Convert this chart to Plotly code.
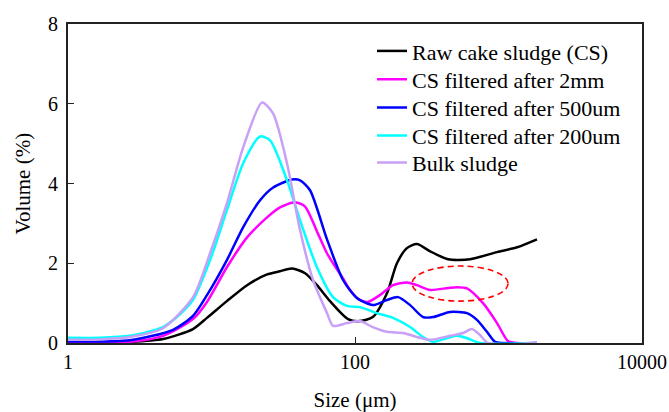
import plotly.graph_objects as go

# Particle size distributions (size in µm, volume in %)
raw_cake_size = [1, 1.67, 2.70, 4.59, 7.43, 9.30, 12.8, 17.7, 24.4, 30.0, 36.4, 44.9, 54.3, 67.0,
                 89.4, 108, 133, 167, 196, 230, 270, 334, 445, 633, 977, 1346, 1854]
raw_cake_vol = [0.02, 0.02, 0.03, 0.10, 0.35, 0.63, 1.05, 1.45, 1.72, 1.80, 1.87, 1.75, 1.45, 1.05,
                0.60, 0.55, 0.65, 1.25, 2.00, 2.38, 2.48, 2.30, 2.10, 2.10, 2.28, 2.40, 2.60]

cs_2mm_size = [1, 2.70, 4.59, 7.43, 9.30, 12.8, 17.7, 24.4, 30.0, 38.2, 44.9, 54.3, 63.8, 70.3,
               82.5, 92.3, 108, 123, 149, 184, 230, 270, 334, 445, 514, 603, 780, 977, 1164, 1346, 1854]
cs_2mm_vol = [0.02, 0.03, 0.18, 0.60, 1.03, 1.90, 2.65, 3.15, 3.40, 3.53, 3.42, 2.80, 2.25, 2.00,
              1.62, 1.33, 1.08, 1.03, 1.20, 1.45, 1.52, 1.45, 1.33, 1.38, 1.40, 1.37, 1.00, 0.50, 0.05, 0, 0]

cs_500um_size = [1, 2.70, 5.39, 7.43, 9.30, 12.8, 16.6, 21.8, 26.9, 36.4, 41.4, 48.6, 63.8, 82.5,
                 103, 133, 167, 200, 242, 298, 350, 459, 603, 708, 831, 946, 1075, 1854]
cs_500um_vol = [0.04, 0.07, 0.33, 0.68, 1.20, 2.08, 2.90, 3.58, 3.90, 4.10, 4.08, 3.83, 2.60, 1.58,
                1.13, 0.95, 1.08, 1.15, 0.95, 0.65, 0.65, 0.78, 0.75, 0.58, 0.28, 0.03, 0, 0]

cs_200um_size = [1, 1.67, 2.70, 4.59, 6.03, 7.43, 9.77, 12.8, 16.6, 21.8, 25.6, 33.6, 41.4, 54.3,
                 70.3, 88.0, 108, 142, 184, 242, 298, 350, 445, 514, 603, 743, 1854]
cs_200um_vol = [0.13, 0.13, 0.18, 0.40, 0.72, 1.08, 2.08, 3.33, 4.50, 5.18, 5.08, 4.08, 3.08, 1.90,
                1.15, 0.93, 0.90, 0.75, 0.63, 0.40, 0.15, 0.03, 0.13, 0.18, 0.12, 0, 0]

bulk_size = [1, 1.67, 2.70, 4.59, 7.43, 9.77, 12.8, 16.6, 22.5, 26.9, 33.6, 41.4, 51.0, 63.8,
             70.3, 88.0, 108, 133, 167, 216, 284, 334, 459, 566, 653, 743, 845, 1854]
bulk_vol = [0.08, 0.09, 0.15, 0.37, 1.15, 2.25, 3.50, 4.90, 6.03, 5.75, 4.50, 2.83, 1.58, 0.75,
            0.43, 0.50, 0.55, 0.40, 0.28, 0.25, 0.13, 0.08, 0.18, 0.25, 0.35, 0.20, 0, 0]

series_names = ["Raw cake sludge (CS)", "CS filtered after 2mm", "CS filtered after 500um",
                "CS filtered after 200um", "Bulk sludge"]
series_sizes = [raw_cake_size, cs_2mm_size, cs_500um_size, cs_200um_size, bulk_size]
series_vols = [raw_cake_vol, cs_2mm_vol, cs_500um_vol, cs_200um_vol, bulk_vol]
series_colors = ["#000000", "#FF00FF", "#0000FF", "#00FFFF", "#C9A0F7"]

# Highlighted second-mode region (size range, volume range)
highlight_size = [250, 1165]
highlight_vol = [1.05, 1.93]

x_ticks = [1, 100, 10000]
y_ticks = [0, 2, 4, 6, 8]

FONT = "Times New Roman, Liberation Serif, serif"

# one single-entry legend per series, stacked as a key in the upper right
legend_ids = ["legend", "legend2", "legend3", "legend4", "legend5"]
legend_rows = [0.915, 0.826, 0.738, 0.650, 0.565]

fig = go.Figure()
for name, xs, ys, color, lid in zip(series_names, series_sizes, series_vols,
                                     series_colors, legend_ids):
    fig.add_trace(go.Scatter(
        x=xs, y=ys, name=name, mode="lines", legend=lid,
        line=dict(color=color, width=2.5, shape="spline", smoothing=0.7),
    ))

fig.add_shape(
    type="circle", xref="x", yref="y",
    x0=highlight_size[0], x1=highlight_size[1],
    y0=highlight_vol[0], y1=highlight_vol[1],
    line=dict(color="#FF0000", width=1.6, dash="6px,4px"),
)

axis_common = dict(
    showline=True, linecolor="#222222", linewidth=1.5, mirror=True,
    ticks="inside", ticklen=6, tickwidth=1.2, tickcolor="#222222",
    showgrid=False, zeroline=False, automargin=False,
    tickfont=dict(family=FONT, size=20, color="#000000"),
)

fig.update_xaxes(
    type="log", range=[0, 4], tickvals=x_ticks, ticktext=[str(v) for v in x_ticks],
    title=dict(text="Size (μm)",
               font=dict(family=FONT, size=21, color="#000000", weight="normal"),
               standoff=22),
    **axis_common,
)
# y tick labels are set as annotations so they sit close to the axis line
fig.update_yaxes(range=[0, 8], tickvals=y_ticks, showticklabels=False, **axis_common)

for v in y_ticks:
    fig.add_annotation(
        x=0, xref="paper", y=v, yref="y", text=str(v),
        xanchor="right", yanchor="middle", xshift=-8, showarrow=False,
        font=dict(family=FONT, size=20, color="#000000"),
    )

fig.add_annotation(
    x=-0.0801, xref="paper", y=0.5, yref="paper", text="Volume (%)",
    textangle=-90, xanchor="center", yanchor="middle", showarrow=False,
    font=dict(family=FONT, size=21, color="#000000"),
)

legend_layout = {}
for lid, ly in zip(legend_ids, legend_rows):
    legend_layout[lid] = dict(
        x=0.5296, y=ly, xanchor="left", yanchor="middle",
        bgcolor="rgba(0,0,0,0)", borderwidth=0,
        font=dict(family=FONT, size=22, color="#000000"),
    )

fig.update_layout(
    width=669, height=412,
    margin=dict(l=68, r=27, t=24, b=69),
    paper_bgcolor="white", plot_bgcolor="white",
    font=dict(family=FONT, size=20, color="#000000"),
    showlegend=True,
    **legend_layout,
)

fig.write_html("out.html")
